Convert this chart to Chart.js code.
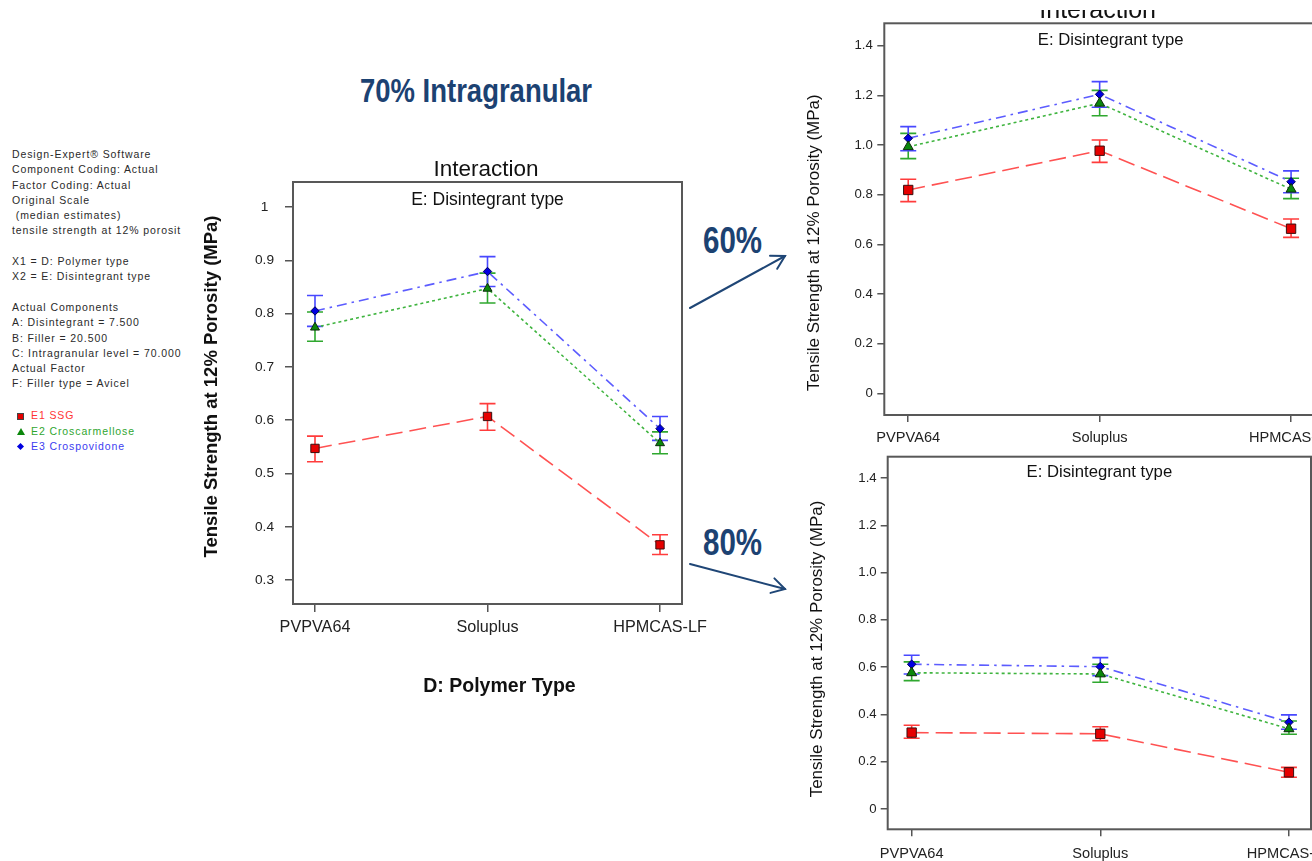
<!DOCTYPE html>
<html>
<head>
<meta charset="utf-8">
<script src="https://cdn.jsdelivr.net/npm/chart.js@4.4.1/dist/chart.umd.min.js"></script>
<style>
  html, body { margin: 0; padding: 0; background: #fff; }
  body { width: 1312px; height: 861px; overflow: hidden; position: relative; font-family: 'Liberation Sans', Arial, sans-serif; }
  canvas { position: absolute; }
  #main { left: 190px; top: 140px; }
  #p60 { left: 800px; top: -20px; }
  #p80 { left: 800px; top: 440px; }
  .note { position: absolute; left: 12px; top: 147px; font-size: 10.5px; line-height: 15.3px; letter-spacing: .9px; color: #2a2a2a; white-space: pre; }
  .leg { position: absolute; left: 31px; font-size: 10.5px; line-height: 15.3px; height: 15.3px; letter-spacing: .9px; white-space: pre; }
  .mk { position: absolute; left: -14px; top: 5px; }
  .big { position: absolute; font-family: 'Liberation Sans', Arial, sans-serif; font-weight: bold; color: #1c4272; line-height: 1; white-space: pre; transform: scaleX(0.82); transform-origin: left top; }
  svg { position: absolute; left: 0; top: 0; }
</style>
</head>
<body>
<div class="big" style="left:360px;top:73.6px;font-size:33.5px">70% Intragranular</div>
<div class="big" style="left:703px;top:223.3px;font-size:36px">60%</div>
<div class="big" style="left:703px;top:525.3px;font-size:36px">80%</div>
<div class="note">Design-Expert® Software
Component Coding: Actual
Factor Coding: Actual
Original Scale
 (median estimates)
tensile strength at 12% porosit

X1 = D: Polymer type
X2 = E: Disintegrant type

Actual Components
A: Disintegrant = 7.500
B: Filler = 20.500
C: Intragranular level = 70.000
Actual Factor
F: Filler type = Avicel</div>
<div id="legend"></div>
<svg width="1312" height="861">
  <g stroke="#1f4676" stroke-width="2" fill="none" stroke-linecap="round">
    <line x1="690" y1="308" x2="785" y2="256"/>
    <polyline points="770,255.7 785,256 777.2,268.8"/>
    <line x1="690" y1="564" x2="785" y2="589"/>
    <polyline points="774.4,578.4 785,589 770.5,592.9"/>
  </g>
</svg>
<canvas id="main" width="520" height="570"></canvas>
<canvas id="p60" width="540" height="480"></canvas>
<canvas id="p80" width="540" height="440"></canvas>
<script>
// categorie e serie
const polymers = ['PVPVA64', 'Soluplus', 'HPMCAS-LF'];
const disintegrants = ['E1 SSG', 'E2 Croscarmellose', 'E3 Crospovidone'];
const panelTitle = 'Interaction';
const legendTitle = 'E: Disintegrant type';
const yTitle = 'Tensile Strength at 12% Porosity (MPa)';
const xTitle = 'D: Polymer Type';

// 70% intragranulare (grafico centrale)
const ssg70 = [0.547, 0.607, 0.366];
const ssg70Lo = [0.522, 0.581, 0.348];
const ssg70Hi = [0.570, 0.631, 0.385];
const ccs70 = [0.774, 0.847, 0.557];
const ccs70Lo = [0.748, 0.820, 0.537];
const ccs70Hi = [0.803, 0.876, 0.578];
const cpv70 = [0.805, 0.879, 0.584];
const cpv70Lo = [0.776, 0.851, 0.562];
const cpv70Hi = [0.834, 0.907, 0.607];

// 60% intragranulare (in alto a destra)
const ssg60 = [0.819, 0.977, 0.663];
const ssg60Lo = [0.772, 0.930, 0.628];
const ssg60Hi = [0.862, 1.020, 0.702];
const ccs60 = [0.993, 1.168, 0.822];
const ccs60Lo = [0.945, 1.118, 0.784];
const ccs60Hi = [1.047, 1.220, 0.866];
const cpv60 = [1.027, 1.204, 0.852];
const cpv60Lo = [0.977, 1.152, 0.808];
const cpv60Hi = [1.074, 1.255, 0.896];

// 80% intragranulare (in basso a destra)
const ssg80 = [0.323, 0.318, 0.155];
const ssg80Lo = [0.299, 0.289, 0.134];
const ssg80Hi = [0.354, 0.348, 0.176];
const ccs80 = [0.576, 0.571, 0.339];
const ccs80Lo = [0.543, 0.536, 0.316];
const ccs80Hi = [0.622, 0.612, 0.372];
const cpv80 = [0.612, 0.602, 0.367];
const cpv80Lo = [0.571, 0.564, 0.337];
const cpv80Hi = [0.650, 0.640, 0.398];

const mainTicks = [0.3, 0.4, 0.5, 0.6, 0.7, 0.8, 0.9, 1.0];
const mainTickLabels = ['0.3', '0.4', '0.5', '0.6', '0.7', '0.8', '0.9', '1'];
const sideTicks = [0, 0.2, 0.4, 0.6, 0.8, 1.0, 1.2, 1.4];
const sideTickLabels = ['0', '0.2', '0.4', '0.6', '0.8', '1.0', '1.2', '1.4'];

const FONT = "'Liberation Sans', Arial, sans-serif";
Chart.defaults.font.family = FONT;
Chart.defaults.color = '#222';

const STY = [
  { line: '#ff5252', err: '#ff3c3c', fill: '#e60000', edge: '#3a1010', shape: 'rect', txt: '#ff3434' },
  { line: '#3fb43f', err: '#2fa82f', fill: '#0b870b', edge: '#0d2a0d', shape: 'triangle', txt: '#2fa52f' },
  { line: '#5c5cff', err: '#4848ff', fill: '#0000e0', edge: '#00005a', shape: 'rectRot', txt: '#3c3cf0' },
];
const DASH = [[17, 7], [3, 3], [10, 5, 2.5, 5]];

// legenda a sinistra
(function () {
  const box = document.getElementById('legend');
  const mk = [
    '<span class="mk" style="left:-14px;top:5px;width:5px;height:5px;background:#e60000;border:1px solid #444"></span>',
    '<span class="mk" style="left:-14px;top:4px;width:0;height:0;border-left:4px solid transparent;border-right:4px solid transparent;border-bottom:7px solid #0b870b"></span>',
    '<span class="mk" style="left:-13px;top:5px;width:5px;height:5px;background:#0000e0;transform:rotate(45deg)"></span>',
  ];
  disintegrants.forEach((d, i) => {
    const el = document.createElement('div');
    el.className = 'leg';
    el.style.top = (408.3 + i * 15.3) + 'px';
    el.style.color = STY[i].txt;
    el.innerHTML = mk[i] + d;
    box.appendChild(el);
  });
})();

const pts = (v, lo, hi) => v.map((y, i) => ({ x: i, y, lo: lo[i], hi: hi[i] }));

// barre d'errore disegnate con le scale del grafico
const errorBars = {
  id: 'errorBars',
  beforeDatasetsDraw(chart, args, o) {
    const { ctx, scales: { x, y } } = chart;
    chart.data.datasets.forEach((ds) => {
      ctx.save();
      ctx.strokeStyle = ds.errColor;
      ctx.lineWidth = 1.6;
      ds.data.forEach((p) => {
        const px = x.getPixelForValue(p.x);
        const lo = y.getPixelForValue(p.lo), hi = y.getPixelForValue(p.hi);
        ctx.beginPath();
        ctx.moveTo(px, lo); ctx.lineTo(px, hi);
        ctx.moveTo(px - o.cap, lo); ctx.lineTo(px + o.cap, lo);
        ctx.moveTo(px - o.cap, hi); ctx.lineTo(px + o.cap, hi);
        ctx.stroke();
      });
      ctx.restore();
    });
  },
};

// cornice, titoli e titoli degli assi
const frame = {
  id: 'frame',
  afterDraw(chart, args, o) {
    const { ctx, chartArea: a } = chart;
    const cx = (a.left + a.right) / 2;
    ctx.save();
    ctx.strokeStyle = '#585858';
    ctx.lineWidth = 2;
    ctx.strokeRect(a.left, a.top, a.right - a.left, a.bottom - a.top);
    ctx.fillStyle = '#111';
    ctx.textAlign = 'center';
    ctx.textBaseline = 'alphabetic';
    ctx.font = o.subSize + 'px ' + FONT;
    ctx.fillText(legendTitle, cx + o.subDx, a.top + o.subDy);
    // titolo asse y
    ctx.save();
    ctx.translate(o.yX, (a.top + a.bottom) / 2 + o.yDy);
    ctx.rotate(-Math.PI / 2);
    ctx.textBaseline = 'middle';
    ctx.font = o.yFont;
    ctx.fillText(yTitle, 0, 0);
    ctx.restore();
    if (o.xFont) {
      ctx.font = o.xFont;
      ctx.textBaseline = 'middle';
      ctx.fillText(xTitle, cx + o.xDx, o.xY);
    }
    ctx.beginPath();
    ctx.rect(0, o.clipTop, chart.width, chart.height);
    ctx.clip();
    ctx.textBaseline = 'alphabetic';
    ctx.font = o.titleSize + 'px ' + FONT;
    ctx.fillText(panelTitle, cx + o.titleDx, a.top - o.titleUp);
    ctx.restore();
  },
};

function makePanel(id, sets, p) {
  const datasets = sets.map((s, i) => ({
    label: disintegrants[i],
    data: s,
    borderColor: STY[i].line,
    borderWidth: 1.6,
    borderDash: DASH[i],
    pointStyle: STY[i].shape,
    pointRadius: p.radius[i],
    pointBackgroundColor: STY[i].fill,
    pointBorderColor: STY[i].edge,
    pointBorderWidth: 1,
    fill: false,
    tension: 0,
    errColor: STY[i].err,
  }));
  return new Chart(document.getElementById(id), {
    type: 'line',
    data: { datasets },
    options: {
      responsive: false,
      animation: false,
      events: [],
      layout: { padding: p.pad },
      plugins: {
        legend: { display: false },
        tooltip: { enabled: false },
        errorBars: { cap: 8 },
        frame: p.frame,
      },
      scales: {
        x: {
          type: 'linear', bounds: 'data', min: p.xMin, max: p.xMax,
          afterBuildTicks: (ax) => { ax.ticks = polymers.map((c, i) => ({ value: i })); },
          afterFit: (ax) => { ax.height = p.xH; ax.paddingLeft = 0; ax.paddingRight = 0; },
          grid: { display: true, drawOnChartArea: false, drawTicks: true, tickLength: p.xTick, color: '#555', lineWidth: 1.5 },
          border: { display: false },
          ticks: { autoSkip: false, maxRotation: 0, padding: p.xPad, color: '#222', font: { size: p.xFont }, callback: (v) => polymers[v] },
        },
        y: {
          type: 'linear', bounds: 'data', min: p.yMin, max: p.yMax,
          afterBuildTicks: (ax) => { ax.ticks = p.ticks.map((v) => ({ value: v })); },
          afterFit: (ax) => { ax.width = p.yW; ax.paddingTop = 0; ax.paddingBottom = 0; },
          grid: { display: true, drawOnChartArea: false, drawTicks: true, tickLength: p.yTick, color: '#555', lineWidth: 1.5 },
          border: { display: false },
          ticks: { crossAlign: p.cross, padding: p.yPad, color: '#222', font: { size: p.yFont },
            callback: (v) => p.tickLabels[p.ticks.findIndex((t) => Math.abs(t - v) < 1e-9)] },
        },
      },
    },
    plugins: [errorBars, frame],
  });
}

makePanel('main', [pts(ssg70, ssg70Lo, ssg70Hi), pts(ccs70, ccs70Lo, ccs70Hi), pts(cpv70, cpv70Lo, cpv70Hi)], {
  pad: { top: 42, right: 28, left: 0, bottom: 0 }, xH: 106, yW: 103,
  xMin: -0.1275, xMax: 2.1275, yMin: 0.255, yMax: 1.047,
  ticks: mainTicks, tickLabels: mainTickLabels, cross: 'center',
  xTick: 8, yTick: 8, xPad: 6, yPad: 11, xFont: 16.2, yFont: 13.7,
  radius: [5.9, 5.2, 4.2],
  frame: { subSize: 17.5, subDx: 0, subDy: 23, titleSize: 22.5, titleDx: -1.5, titleUp: 6, clipTop: 0,
    yX: 22, yDy: -6.5, yFont: 'bold 18.5px ' + FONT, xFont: 'bold 19.5px ' + FONT, xDx: 12, xY: 547 },
});

makePanel('p60', [pts(ssg60, ssg60Lo, ssg60Hi), pts(ccs60, ccs60Lo, ccs60Hi), pts(cpv60, cpv60Lo, cpv60Hi)], {
  pad: { top: 43.3, right: 25, left: 0, bottom: 0 }, xH: 45, yW: 84.3,
  xMin: -0.125, xMax: 2.125, yMin: -0.087, yMax: 1.49,
  ticks: sideTicks, tickLabels: sideTickLabels, cross: 'near',
  xTick: 7, yTick: 7, xPad: 7, yPad: 4.5, xFont: 14.6, yFont: 13.2,
  radius: [6.6, 5.8, 4.3],
  frame: { subSize: 16.7, subDx: 11, subDy: 21.7, titleSize: 25, titleDx: -2, titleUp: 5, clipTop: 30,
    yX: 14.5, yDy: 23.5, yFont: '17px ' + FONT },
});

makePanel('p80', [pts(ssg80, ssg80Lo, ssg80Hi), pts(ccs80, ccs80Lo, ccs80Hi), pts(cpv80, cpv80Lo, cpv80Hi)], {
  pad: { top: 16.7, right: 29, left: 0, bottom: 0 }, xH: 50.7, yW: 87.7,
  xMin: -0.127, xMax: 2.117, yMin: -0.086, yMax: 1.49,
  ticks: sideTicks, tickLabels: sideTickLabels, cross: 'near',
  xTick: 7, yTick: 7, xPad: 9, yPad: 4, xFont: 14.6, yFont: 13.2,
  radius: [6.6, 5.8, 4.3],
  frame: { subSize: 16.7, subDx: 0, subDy: 20, titleSize: 25, titleDx: 0, titleUp: 40, clipTop: 9999,
    yX: 17.5, yDy: 6, yFont: '17px ' + FONT },
});
</script>
</body>
</html>
